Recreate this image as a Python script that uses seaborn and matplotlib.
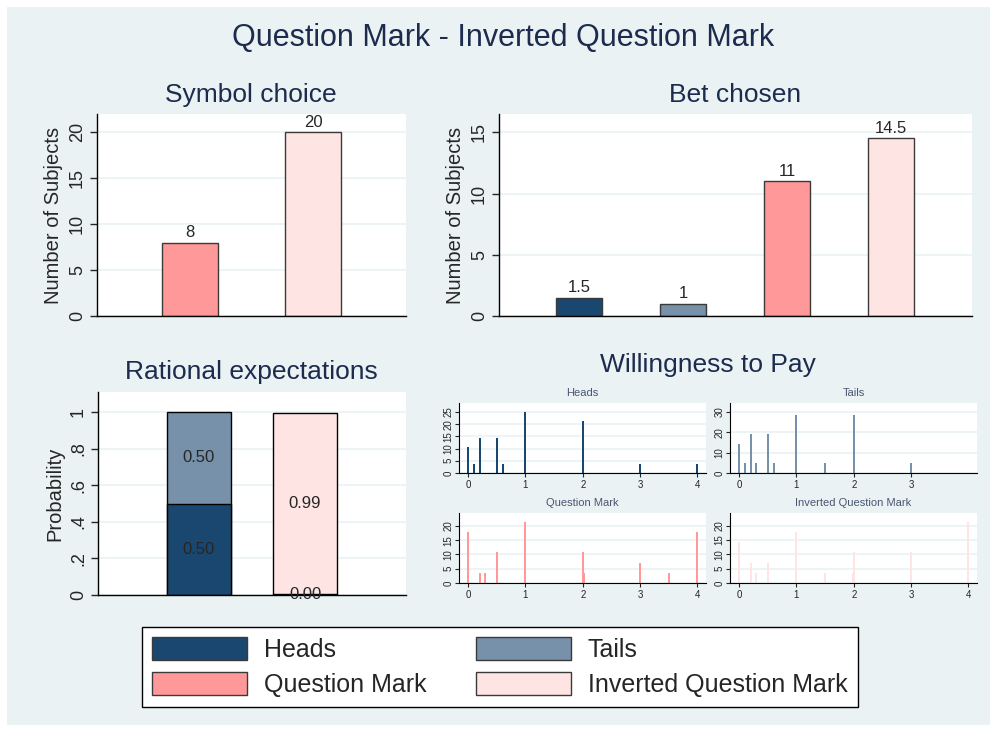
import matplotlib
matplotlib.use("Agg")
import matplotlib.pyplot as plt
from matplotlib.patches import Patch, Rectangle
import seaborn as sns

# colours (Stata-like scheme)
HEADS = "#1A476F"
TAILS = "#7891AA"
QMARK = "#FF9999"
INVQ = "#FFE4E4"
BG = "#EAF2F3"
TITLE_C = "#1C2B4E"
EDGE = "#3A3A3A"

# Symbol choice
symbol_cats = ["Question Mark", "Inverted Question Mark"]
symbol_vals = [8, 20]

# Bet chosen
bet_cats = ["Heads", "Tails", "Question Mark", "Inverted Question Mark"]
bet_vals = [1.5, 1, 11, 14.5]

# Rational expectations (stacked probabilities)
rat_bars = ["Coin", "Symbol"]
rat_bottom = [0.50, 0.004]
rat_top = [0.50, 0.99]

# Willingness to pay (value -> percent)
wtp_heads_x = [0, 0.1, 0.2, 0.5, 0.6, 1, 2, 3, 4]
wtp_heads_y = [10.7, 3.6, 14.3, 14.3, 3.6, 25.0, 21.4, 3.6, 3.6]
wtp_tails_x = [0, 0.1, 0.2, 0.3, 0.5, 0.6, 1, 1.5, 2, 3]
wtp_tails_y = [14.3, 4.8, 19.0, 4.8, 19.0, 4.8, 28.6, 4.8, 28.6, 4.8]
wtp_qm_x = [0, 0.2, 0.3, 0.5, 1, 2, 2.02, 3, 3.5, 4]
wtp_qm_y = [17.9, 3.6, 3.6, 10.7, 21.4, 10.7, 3.6, 7.1, 3.6, 17.9]
wtp_iqm_x = [0, 0.2, 0.3, 0.5, 1, 1.5, 1.98, 2, 3, 4]
wtp_iqm_y = [14.3, 7.1, 3.6, 7.1, 17.9, 3.6, 3.6, 10.7, 10.7, 21.4]

sns.set_style("white")
plt.rcParams["font.family"] = ["Liberation Sans", "DejaVu Sans"]

W, H = 997, 732
fig = plt.figure(figsize=(W / 100, H / 100), dpi=100, facecolor="white")
fig.patches.append(Rectangle((7 / W, 7 / H), 983 / W, 718 / H, transform=fig.transFigure,
                             facecolor=BG, edgecolor="none", zorder=-10))


def box(x0, y0, x1, y1):
    return [x0 / W, 1 - y1 / H, (x1 - x0) / W, (y1 - y0) / H]


def ftext(x, y, s, size, color=TITLE_C):
    fig.text(x / W, 1 - y / H, s, ha="center", va="center", fontsize=size, color=color)


def style_axes(ax, ticksize=13):
    ax.set_facecolor("white")
    for sp in ["top", "right"]:
        ax.spines[sp].set_visible(False)
    for sp in ["left", "bottom"]:
        ax.spines[sp].set_color("black")
        ax.spines[sp].set_linewidth(1)
    ax.yaxis.grid(True, color=BG, linewidth=1.2)
    ax.set_axisbelow(True)
    ax.tick_params(axis="y", left=True, length=5, width=1, labelsize=ticksize,
                   labelrotation=90, pad=3)
    for lbl in ax.get_yticklabels():
        lbl.set_va("center")
    ax.set_xlabel("")


ftext(503, 38, "Question Mark - Inverted Question Mark", 22)

# --- Symbol choice
ax1 = fig.add_axes(box(97, 114, 406, 316))
sns.barplot(x=symbol_cats, y=symbol_vals, hue=symbol_cats, palette=[QMARK, INVQ],
            width=0.45, saturation=1, edgecolor=EDGE, linewidth=1, legend=False, ax=ax1)
for c in ax1.containers:
    ax1.bar_label(c, fmt="%g", padding=2, fontsize=12)
ax1.set_xlim(-0.75, 1.75)
ax1.set_ylim(0, 22)
ax1.set_yticks([0, 5, 10, 15, 20])
ax1.set_xticks([])
ax1.set_ylabel("Number of Subjects", fontsize=14.5)
style_axes(ax1)
ftext(251, 95, "Symbol choice", 19)

# --- Bet chosen
ax2 = fig.add_axes(box(499, 114, 972, 316))
sns.barplot(x=bet_cats, y=bet_vals, hue=bet_cats, palette=[HEADS, TAILS, QMARK, INVQ],
            width=0.45, saturation=1, edgecolor=EDGE, linewidth=1, legend=False, ax=ax2)
for c in ax2.containers:
    ax2.bar_label(c, fmt="%g", padding=2, fontsize=12)
ax2.set_xlim(-0.77, 3.78)
ax2.set_ylim(0, 16.5)
ax2.set_yticks([0, 5, 10, 15])
ax2.set_xticks([])
ax2.set_ylabel("Number of Subjects", fontsize=14.5)
style_axes(ax2)
ftext(735, 95, "Bet chosen", 19)

# --- Rational expectations
ax3 = fig.add_axes(box(98, 392, 406, 595))
rat_total = [b + t for b, t in zip(rat_bottom, rat_top)]
sns.barplot(x=rat_bars, y=rat_total, hue=rat_bars, palette=[TAILS, INVQ], width=0.6,
            saturation=1, edgecolor="black", linewidth=1, legend=False, ax=ax3)
sns.barplot(x=rat_bars, y=rat_bottom, hue=rat_bars, palette=[HEADS, QMARK], width=0.6,
            saturation=1, edgecolor="black", linewidth=1, legend=False, ax=ax3)
for i, (b, t) in enumerate(zip(rat_bottom, rat_top)):
    ax3.text(i, b / 2, f"{b:.2f}", ha="center", va="center", fontsize=12)
    ax3.text(i, b + t / 2, f"{t:.2f}", ha="center", va="center", fontsize=12)
ax3.set_xlim(-0.95, 1.95)
ax3.set_ylim(0, 1.11)
ax3.set_yticks([0, 0.2, 0.4, 0.6, 0.8, 1])
ax3.set_yticklabels(["0", ".2", ".4", ".6", ".8", "1"])
ax3.set_xticks([])
ax3.set_ylabel("Probability", fontsize=14.5)
style_axes(ax3)
ftext(251, 372, "Rational expectations", 19)

# --- Willingness to pay
ftext(708, 365, "Willingness to Pay", 19)
panels = [
    ("Heads", wtp_heads_x, wtp_heads_y, HEADS, (459, 403, 706, 473), 28.7, [0, 5, 10, 15, 20, 25], [0, 1, 2, 3, 4]),
    ("Tails", wtp_tails_x, wtp_tails_y, TAILS, (730, 403, 977, 473), 34.4, [0, 10, 20, 30], [0, 1, 2, 3]),
    ("Question Mark", wtp_qm_x, wtp_qm_y, QMARK, (459, 513, 706, 583), 24.5, [0, 5, 10, 15, 20], [0, 1, 2, 3, 4]),
    ("Inverted Question Mark", wtp_iqm_x, wtp_iqm_y, INVQ, (730, 513, 977, 583), 24.4, [0, 5, 10, 15, 20], [0, 1, 2, 3, 4]),
]
for name, xs, ys, col, px, top, yt, xt in panels:
    ax = fig.add_axes(box(*px))
    sns.barplot(x=xs, y=ys, native_scale=True, color=col, saturation=1, errorbar=None,
                linewidth=0, ax=ax)
    for p in ax.patches:
        cx = p.get_x() + p.get_width() / 2
        p.set_width(0.035)
        p.set_x(cx - 0.0175)
    ax.set_xlim(-0.16, 4.15)
    ax.set_ylim(0, top)
    ax.set_yticks(yt)
    ax.set_xticks(xt)
    ax.set_ylabel("")
    style_axes(ax, ticksize=7)
    ax.tick_params(axis="x", bottom=True, length=3, width=0.8, labelsize=7, pad=2)
    ax.tick_params(axis="y", length=3, width=0.8, pad=1)
    ax.spines["left"].set_linewidth(0.8)
    ax.spines["bottom"].set_linewidth(0.8)
    ftext((px[0] + px[2]) / 2, px[1] - 10, name, 8, "#4A5670")

# --- Legend
handles = [Patch(facecolor=HEADS, edgecolor=EDGE, label="Heads"),
           Patch(facecolor=QMARK, edgecolor=EDGE, label="Question Mark"),
           Patch(facecolor=TAILS, edgecolor=EDGE, label="Tails"),
           Patch(facecolor=INVQ, edgecolor=EDGE, label="Inverted Question Mark")]
leg = fig.legend(handles=handles, loc="center", bbox_to_anchor=(500 / W, 1 - 667 / H), ncol=2,
                 fontsize=18, frameon=True, fancybox=False, edgecolor="black",
                 facecolor="white", framealpha=1,
                 handlelength=3.8, handleheight=1.04, handletextpad=0.68, columnspacing=1.96,
                 labelspacing=0.4, borderpad=0.4)
leg.get_frame().set_linewidth(1)

fig.savefig("out.png", dpi=100, facecolor="white")
